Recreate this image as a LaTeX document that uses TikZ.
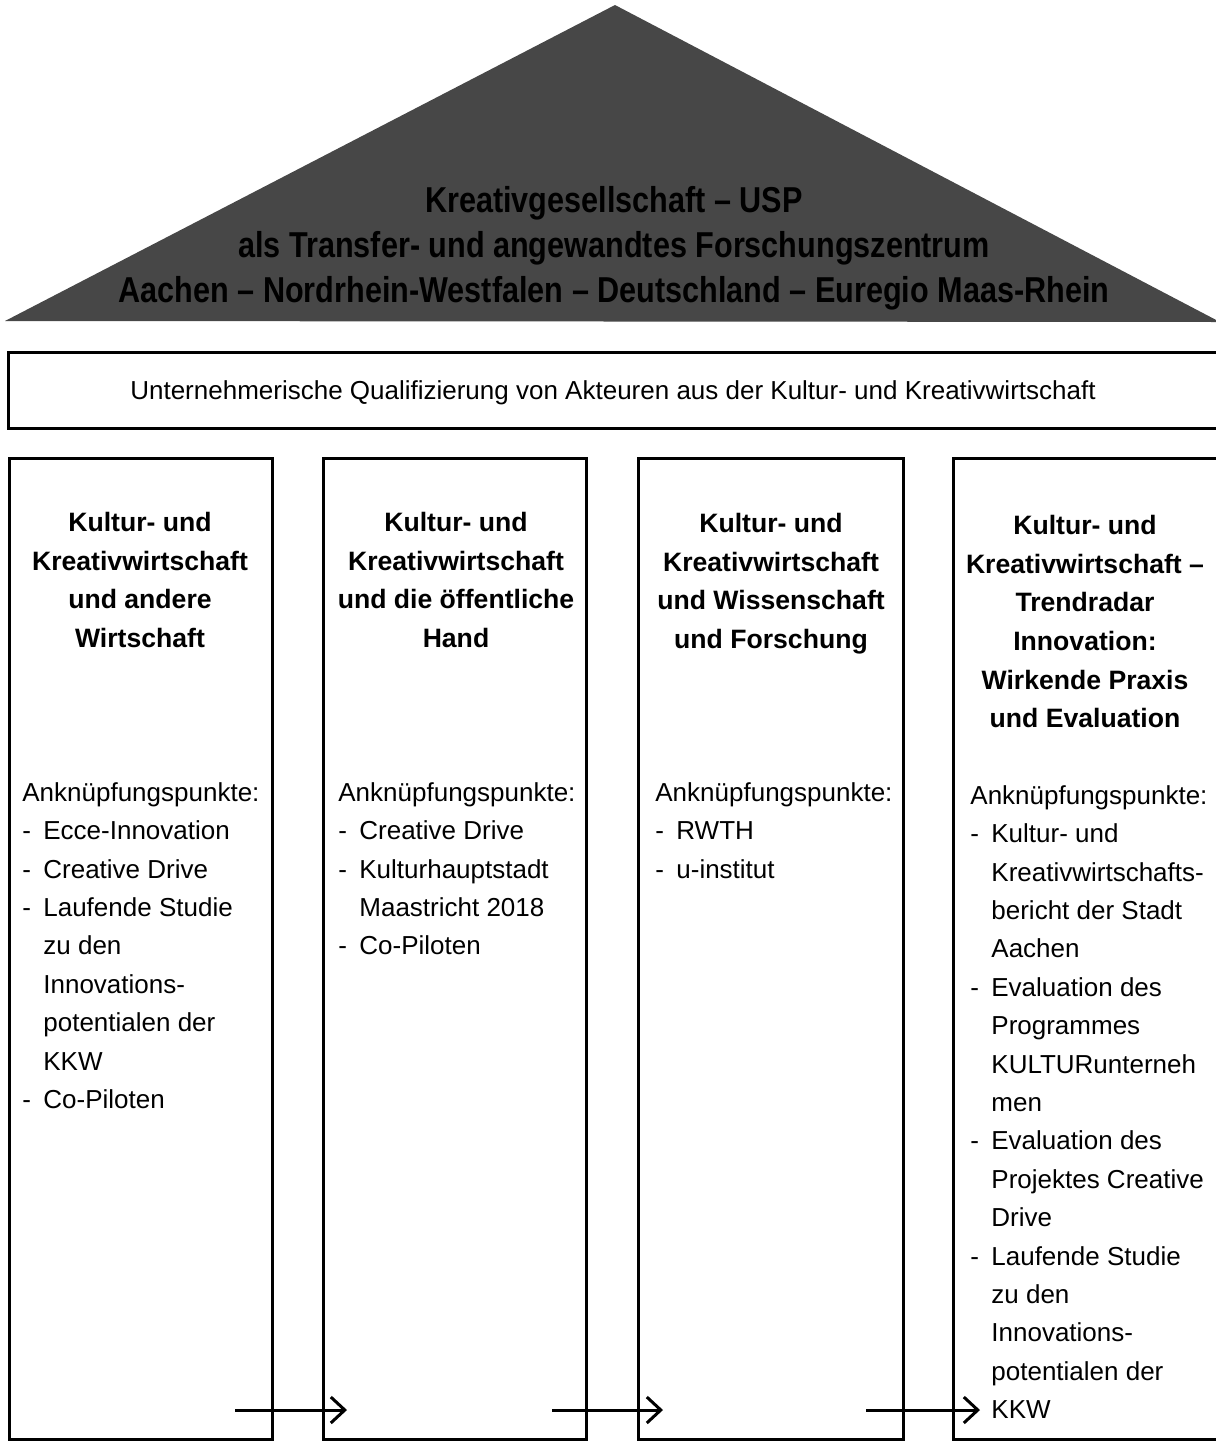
\documentclass[tikz,border=0pt]{standalone}
\usepackage{fontspec}
\setmainfont{Liberation Sans}
\newfontfamily\dachfont[FakeStretch=0.85]{Liberation Sans}
\usetikzlibrary{arrows.meta}
\tikzstyle{line} = [draw, line width=1.5pt, -{Straight Barb[length=7pt,width=13pt,line width=1.5pt]}]
\tikzstyle{rahmen} = [draw, line width=1.5pt]
\tikzstyle{titel} = [anchor=north, inner sep=0pt, align=center, font=\fontsize{13.3}{19.3}\selectfont\bfseries]
\tikzstyle{liste} = [anchor=north west, inner sep=0pt, align=left, font=\fontsize{13}{19.2}\selectfont]
\newcommand{\pkt}{\makebox[10.5pt][l]{-}}
\newcommand{\ein}{\hspace*{10.5pt}}

\begin{document}
\begin{tikzpicture}[x=0.5pt, y=-0.5pt]
\useasboundingbox (0,0) rectangle (1216,1441);
% Dach
\fill[black!72] (615,5) -- (1220,322) -- (5,321) -- cycle;
\node[anchor=north, inner sep=0pt, align=center, font=\dachfont\fontsize{18}{22.5}\selectfont\bfseries] (dach) at (614,186)
  {Kreativgesellschaft – USP\\ als Transfer- und angewandtes Forschungszentrum\\ Aachen – Nordrhein-Westfalen – Deutschland – Euregio Maas-Rhein};
%
\draw[rahmen] (1230,352) -- (8,352) -- (8,428) -- (1230,428);
\node[anchor=base, inner sep=0pt, font=\fontsize{13}{19}\selectfont] (basis) at (613,399)
  {Unternehmerische Qualifizierung von Akteuren aus der Kultur- und Kreativwirtschaft};
%
\draw[rahmen] (9,458) rectangle (272,1439);
\draw[rahmen] (323,458) rectangle (586,1439);
\draw[rahmen] (638,458) rectangle (903,1439);
\draw[rahmen] (1230,458) -- (953,458) -- (953,1439) -- (1230,1439);
%
\node[titel] (t1) at (140,512) {Kultur- und\\ Kreativwirtschaft\\ und andere\\ Wirtschaft};
\node[titel] (t2) at (456,512) {Kultur- und\\ Kreativwirtschaft\\ und die öffentliche\\ Hand};
\node[titel] (t3) at (771,513) {Kultur- und\\ Kreativwirtschaft\\ und Wissenschaft\\ und Forschung};
\node[titel] (t4) at (1085,515) {Kultur- und\\ Kreativwirtschaft –\\ Trendradar\\ Innovation:\\ Wirkende Praxis\\ und Evaluation};
%
\node[liste] (l1) at (22,782) {Anknüpfungspunkte:\\ \pkt Ecce-Innovation\\ \pkt Creative Drive\\ \pkt Laufende Studie\\ \ein zu den\\ \ein Innovations-\\ \ein potentialen der\\ \ein KKW\\ \pkt Co-Piloten};
\node[liste] (l2) at (338,782) {Anknüpfungspunkte:\\ \pkt Creative Drive\\ \pkt Kulturhauptstadt\\ \ein Maastricht 2018\\ \pkt Co-Piloten};
\node[liste] (l3) at (655,782) {Anknüpfungspunkte:\\ \pkt RWTH\\ \pkt u-institut};
\node[liste] (l4) at (970,785) {Anknüpfungspunkte:\\ \pkt Kultur- und\\ \ein Kreativwirtschafts-\\ \ein bericht der Stadt\\ \ein Aachen\\ \pkt Evaluation des\\ \ein Programmes\\ \ein KULTURunterneh\\ \ein men\\ \pkt Evaluation des\\ \ein Projektes Creative\\ \ein Drive\\ \pkt Laufende Studie\\ \ein zu den\\ \ein Innovations-\\ \ein potentialen der\\ \ein KKW};
%
\coordinate (a1) at (235,1410);
\coordinate (b1) at (347,1410);
\coordinate (a2) at (552,1410);
\coordinate (b2) at (663,1410);
\coordinate (a3) at (866,1410);
\coordinate (b3) at (980,1410);
\path[line] (a1) -- (b1);
\path[line] (a2) -- (b2);
\path[line] (a3) -- (b3);
\end{tikzpicture}
\end{document}
